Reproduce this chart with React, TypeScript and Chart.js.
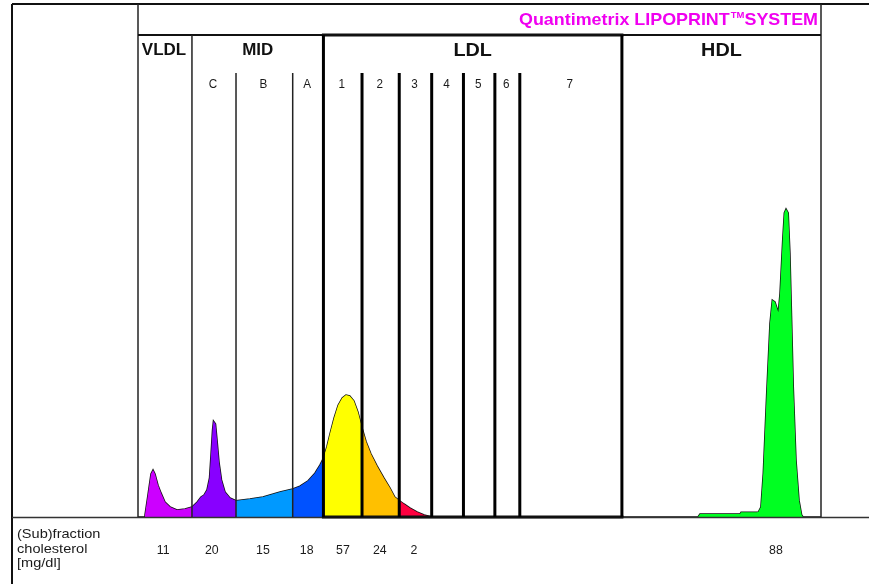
import { useEffect, useRef } from "react";
import { Chart, registerables } from "chart.js";

Chart.register(...registerables);

// Relative migration position (0..100 across the gel) and densitometric intensity (0..100)
const profileX = [
  0, 0.88, 1.02, 1.46, 1.9, 2.2, 2.49, 2.93, 3.37, 3.95, 4.69, 5.71, 6.88, 7.9,
  8.67, 9.22, 9.66, 10.1, 10.47, 10.69, 10.91, 11.05, 11.35, 11.57, 11.86, 12.23, 12.74, 13.47, 14.35,
  16.4, 18.3, 20.8, 22.65,
  23.7, 24.9, 25.9, 26.65, 27.15,
  27.67, 28.1, 28.7, 29.3, 29.9, 30.45, 31.0, 31.6, 32.2, 32.8,
  33.4, 34.1, 35.0, 36.0, 36.9, 37.6, 38.25,
  38.95, 39.8, 40.85, 41.9, 43.0,
  70.85, 81.99, 82.28, 88.14, 88.3, 90.6, 90.82, 91.2, 91.55, 92.05, 92.53, 92.87, 93.26, 93.75,
  94.0, 94.39, 94.63, 94.88, 95.2, 95.45, 95.7, 95.94, 96.34, 96.78, 97.17, 97.36, 100,
];
const profileY = [
  0, 0, 0.4, 4.6, 8.9, 9.75, 8.9, 6.6, 5.0, 3.1, 2.1, 1.45, 1.66, 2.07,
  3.1, 4.15, 4.56, 5.6, 8.1, 12.9, 18.05, 19.9, 19.3, 16.0, 11.4, 7.7, 5.2, 3.95, 3.38,
  3.73, 4.15, 5.2, 5.8,
  6.4, 7.5, 9.1, 10.8, 12.2,
  14.7, 17.2, 20.5, 23.2, 24.7, 25.3, 25.1, 24.1, 21.8, 18.5,
  15.6, 13.1, 10.6, 8.1, 6.0, 4.15, 3.42,
  2.7, 1.87, 1.04, 0.41, 0,
  0, 0, 0.6, 0.6, 1.0, 1.0, 1.04, 2.07, 9.13, 25.7, 40.2, 45.0, 44.6, 42.5,
  46.4, 57.4, 63.1, 63.9, 63.1, 54.8, 40.9, 27.0, 11.8, 3.5, 0.41, 0, 0,
];

const bandEdges = [0, 7.9, 14.35, 22.65, 27.15, 32.8, 38.25, 43.0, 47.65, 52.25, 55.9, 70.85, 100];
const bandColors = [
  "#cc00ff", "#8800ff", "#0099ff", "#0052ff", "#ffff00", "#ffc000", "#ff0040",
  null, null, null, null, "#00ff22",
];
const subLabels = ["", "C", "B", "A", "1", "2", "3", "4", "5", "6", "7", ""];
const groupNames = ["VLDL", "MID", "LDL", "HDL"];
const groupEdges = [0, 7.9, 27.15, 70.85, 100];
const fractionValues = ["11", "20", "15", "18", "57", "24", "2", "", "", "", "", "88"];
const valuePositions = [3.7, 10.8, 18.3, 24.7, 30.0, 35.4, 40.4, null, null, null, null, 93.4];
const headerTitle = "Quantimetrix LIPOPRINT";
const headerSup = "TM";
const headerTail = "SYSTEM";
const rowLabel = ["(Sub)fraction", "cholesterol", "[mg/dl]"];

const FAMILY = '"Liberation Sans", Arial, sans-serif';

function txt(
  ctx: CanvasRenderingContext2D,
  s: string,
  x: number,
  y: number,
  font: string,
  color: string,
  align: CanvasTextAlign,
  sx = 1
) {
  ctx.save();
  ctx.font = font;
  ctx.fillStyle = color;
  ctx.textBaseline = "middle";
  ctx.textAlign = align;
  ctx.translate(x, y);
  ctx.scale(sx, 1);
  ctx.fillText(s, 0, 0);
  ctx.restore();
}

function seg(
  ctx: CanvasRenderingContext2D,
  x1: number,
  y1: number,
  x2: number,
  y2: number,
  w: number,
  color = "#111"
) {
  ctx.save();
  ctx.strokeStyle = color;
  ctx.lineWidth = w;
  ctx.beginPath();
  ctx.moveTo(x1, y1);
  ctx.lineTo(x2, y2);
  ctx.stroke();
  ctx.restore();
}

const decoPlugin = {
  id: "lipoDeco",
  afterDatasetsDraw(chart: any) {
    const ctx: CanvasRenderingContext2D = chart.ctx;
    const a = chart.chartArea;
    const xs = chart.scales.x;
    const W = chart.width;
    const H = chart.height;
    const frameL = 12;
    const frameT = 4;
    const subTop = a.top + 38;

    // outer frame and baseline
    seg(ctx, frameL, frameT, W, frameT, 2);
    seg(ctx, frameL, frameT, frameL, H, 2);
    seg(ctx, frameL, a.bottom + 0.5, W, a.bottom + 0.5, 1.5, "#333");
    // header box / plot border
    seg(ctx, a.left, frameT, a.left, a.bottom, 1.5, "#222");
    seg(ctx, a.right, frameT, a.right, a.bottom, 1.5, "#222");
    seg(ctx, a.left, a.top, a.right, a.top, 2);

    const l0 = xs.getPixelForValue(groupEdges[2]);
    const l1 = xs.getPixelForValue(groupEdges[3]);
    seg(ctx, l0 - 1.5, a.top, l1 + 1.5, a.top, 3);
    seg(ctx, l0 - 1.5, a.bottom, l1 + 1.5, a.bottom, 3);

    for (let i = 1; i < bandEdges.length - 1; i++) {
      const v = bandEdges[i];
      const px = xs.getPixelForValue(v);
      const major = groupEdges.includes(v);
      const thick = v >= groupEdges[2] && v <= groupEdges[3];
      seg(ctx, px, major ? a.top : subTop, px, a.bottom, thick ? 3 : 1.5, thick ? "#000" : "#222");
    }

    // header text
    const bigFont = `bold 17px ${FAMILY}`;
    const supFont = `bold 9px ${FAMILY}`;
    ctx.save();
    ctx.font = bigFont;
    const w1 = ctx.measureText(headerTitle).width;
    const w3 = ctx.measureText(headerTail).width;
    ctx.font = supFont;
    const w2 = ctx.measureText(headerSup).width + 1;
    ctx.restore();
    const target = 299;
    const sx = target / (w1 + w2 + w3);
    const hr = a.right - 3;
    const hy = (frameT + a.top) / 2 + 1;
    const magenta = "#f000f0";
    txt(ctx, headerTail, hr, hy, bigFont, magenta, "right", sx);
    txt(ctx, headerSup, hr - w3 * sx, hy - 5, supFont, magenta, "right", sx);
    txt(ctx, headerTitle, hr - (w3 + w2) * sx, hy, bigFont, magenta, "right", sx);

    // group labels
    for (let g = 0; g < groupNames.length; g++) {
      const cx = (xs.getPixelForValue(groupEdges[g]) + xs.getPixelForValue(groupEdges[g + 1])) / 2;
      const big = g >= 2;
      txt(
        ctx,
        groupNames[g],
        cx + (g === 0 ? -1 : 0),
        a.top + 16,
        big ? `bold 18px ${FAMILY}` : `bold 16px ${FAMILY}`,
        "#111",
        "center",
        big ? 1.1 : 1.06
      );
    }

    // sub-band labels
    for (let i = 0; i < subLabels.length; i++) {
      if (!subLabels[i]) continue;
      const cx = (xs.getPixelForValue(bandEdges[i]) + xs.getPixelForValue(bandEdges[i + 1])) / 2;
      txt(ctx, subLabels[i], cx - 1, a.top + 49, `13px ${FAMILY}`, "#1a1a1a", "center", 0.9);
    }

    // bottom row
    const rowY = [a.bottom + 17, a.bottom + 32, a.bottom + 46];
    rowLabel.forEach((s, i) => txt(ctx, s, 17, rowY[i], `13px ${FAMILY}`, "#1a1a1a", "left", 1.12));
    for (let i = 0; i < fractionValues.length; i++) {
      const p = valuePositions[i];
      if (!fractionValues[i] || p === null) continue;
      txt(ctx, fractionValues[i], xs.getPixelForValue(p), a.bottom + 33, `13px ${FAMILY}`, "#1a1a1a", "center", 0.95);
    }
  },
};

export default function App() {
  const ref = useRef<HTMLCanvasElement | null>(null);

  useEffect(() => {
    if (!ref.current) return;
    const pts = profileX.map((x, i) => ({ x, y: profileY[i] }));
    const fillSets: any[] = [];
    for (let b = 0; b < bandColors.length; b++) {
      const c = bandColors[b];
      if (!c) continue;
      const lo = bandEdges[b];
      const hi = bandEdges[b + 1];
      fillSets.push({
        label: `band${b}`,
        data: pts.filter((p) => p.x >= lo && p.x <= hi),
        backgroundColor: c,
        borderColor: "rgba(0,0,0,0)",
        borderWidth: 0,
        pointRadius: 0,
        fill: "origin",
        tension: 0,
      });
    }
    const chart = new Chart(ref.current, {
      type: "line",
      data: {
        datasets: [
          ...fillSets,
          {
            label: "profile",
            data: pts,
            borderColor: "#111",
            borderWidth: 1.5,
            pointRadius: 0,
            fill: false,
            tension: 0,
          },
        ],
      },
      options: {
        animation: false,
        responsive: false,
        devicePixelRatio: 1,
        layout: { padding: { left: 138, right: 48, top: 35, bottom: 67 } },
        scales: {
          x: { type: "linear", min: 0, max: 100, display: false },
          y: { type: "linear", min: 0, max: 100, display: false },
        },
        plugins: {
          legend: { display: false },
          tooltip: { enabled: false },
        },
      },
      plugins: [decoPlugin],
    });
    return () => chart.destroy();
  }, []);

  return (
    <div style={{ position: "fixed", left: 0, top: 0, width: 869, height: 584, background: "#fff" }}>
      <canvas ref={ref} width={869} height={584} style={{ display: "block" }} />
    </div>
  );
}
